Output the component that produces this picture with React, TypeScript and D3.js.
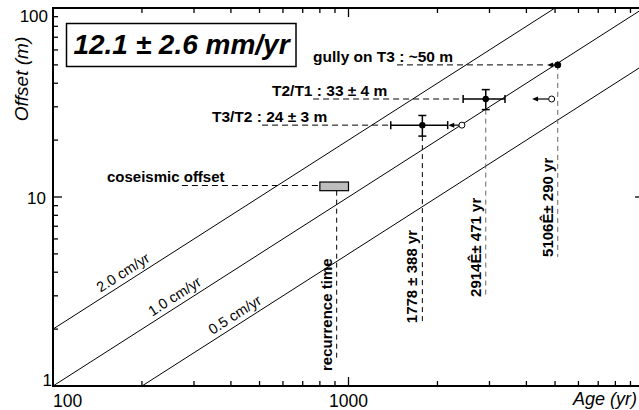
import React from "react";
import * as d3 from "d3";

// ---- data ----
const xDomain = [100, 10000];
const yDomain = [1, 100];
const xTickLabels = ["100", "1000"];
const yTickLabels = ["1", "10", "100"];

const rates = [0.02, 0.01, 0.005]; // m/yr
const rateLabels = ["2.0 cm/yr", "1.0 cm/yr", "0.5 cm/yr"];
const rateLabelAges = [180, 269, 430];

const pointLabels = ["T3/T2 : 24 ± 3 m", "T2/T1 : 33 ± 4 m", "gully on T3 : ~50 m"];
const pointAges = [1778, 2914, 5106];
const pointAgeErr = [388, 471, 0];
const pointOffsets = [24, 33, 50];
const pointOffsetErr = [3, 4, 0];
const openAges = [2420, 4870, 5106];
const arrowTipAges = [2175, 4180, 4700];
const ageLabels = ["1778 ± 388 yr", "2914Ê± 471 yr", "5106Ê± 290 yr"];
const leaderBottomOffsets = [2.15, 2.96, 4.82];
const leaderStartAges = [510, 759, 1459];
const labelStartAges = [345, 551, 759];

const coseismicAges = [800, 1000];
const coseismicOffsets = [10.8, 12];
const coseismicMidOffset = 11.5;
const recurrenceAge = 912;
const coseismicLeaderAge = 273;
const recurrenceBottomOffset = 1.37;

const rateText = "12.1 ± 2.6 mm/yr";

const FONT = "'Liberation Sans', Arial, Helvetica, sans-serif";

export default function App() {
  const x = d3.scaleLog().domain(xDomain).range([53, 644]);
  const y = d3.scaleLog().domain(yDomain).range([386, 8]);
  const [x0, x1] = x.range();
  const [y0, y1] = y.range();
  const xt = x.ticks();
  const yt = y.ticks();
  const isMajor = (v: number) => Math.abs(Math.log10(v) - Math.round(Math.log10(v))) < 1e-9;
  const ang = (Math.atan2(y(10) - y(1), x(1000) - x(100)) * 180) / Math.PI;

  const dash = "6,4";
  return (
    <svg
      width={639}
      height={410}
      style={{ position: "absolute", left: 0, top: 0, background: "#fff" }}
      fontFamily={FONT}
    >
      <defs>
        <clipPath id="plot">
          <rect x={x0} y={y1} width={x1 - x0} height={y0 - y1} />
        </clipPath>
      </defs>
      <rect x={0} y={0} width={639} height={410} fill="#fff" />

      {/* rate lines */}
      <g clipPath="url(#plot)">
        {rates.map((r, i) => {
          const ages = [xDomain[0], xDomain[1]];
          const d = `M${x(ages[0])},${y(r * ages[0])}L${x(ages[1])},${y(r * ages[1])}`;
          return <path key={i} d={d} stroke="#000" strokeWidth={1} fill="none" />;
        })}
      </g>
      {rates.map((r, i) => {
        const a = rateLabelAges[i];
        return (
          <text
            key={i}
            transform={`translate(${x(a)},${y(r * a)}) rotate(${ang})`}
            dy={-5}
            textAnchor="middle"
            fontSize={14.5}
          >
            {rateLabels[i]}
          </text>
        );
      })}

      {/* coseismic offset */}
      <line
        x1={x(coseismicLeaderAge)}
        x2={x(coseismicAges[0])}
        y1={y(coseismicMidOffset)}
        y2={y(coseismicMidOffset)}
        stroke="#000"
        strokeDasharray={dash}
      />
      <line
        x1={x(recurrenceAge)}
        x2={x(recurrenceAge)}
        y1={y(coseismicOffsets[0])}
        y2={y(recurrenceBottomOffset)}
        stroke="#000"
        strokeDasharray="5,4"
      />
      <rect
        x={x(coseismicAges[0])}
        y={y(coseismicOffsets[1])}
        width={x(coseismicAges[1]) - x(coseismicAges[0])}
        height={y(coseismicOffsets[0]) - y(coseismicOffsets[1])}
        fill="#bdbdbd"
        stroke="#000"
        strokeWidth={1.2}
      />
      <text x={107} y={182} fontSize={15} fontWeight="bold">
        coseismic offset
      </text>
      <text
        transform={`translate(${x(recurrenceAge) - 5},371) rotate(-90)`}
        fontSize={15}
        fontWeight="bold"
      >
        recurrence time
      </text>

      {/* dated offsets */}
      {pointAges.map((a, i) => {
        const px = x(a);
        const py = y(pointOffsets[i]);
        const vcol = i === 0 ? "#000" : "#666";
        return (
          <g key={i}>
            <line
              x1={x(leaderStartAges[i])}
              x2={pointAgeErr[i] > 0 ? x(a - pointAgeErr[i]) : x(arrowTipAges[i])}
              y1={py}
              y2={py}
              stroke="#000"
              strokeDasharray={dash}
            />
            <line
              x1={px}
              x2={px}
              y1={pointOffsetErr[i] > 0 ? y(pointOffsets[i] - pointOffsetErr[i]) : py}
              y2={y(leaderBottomOffsets[i])}
              stroke={vcol}
              strokeDasharray="5,4"
            />
            <text x={x(labelStartAges[i])} y={py - 3} fontSize={15.5} fontWeight="bold">
              {pointLabels[i]}
            </text>
            <text
              transform={`translate(${px - 5},${y(leaderBottomOffsets[i])}) rotate(-90)`}
              fontSize={15}
              fontWeight="bold"
            >
              {ageLabels[i]}
            </text>
            {pointAgeErr[i] > 0 && (
              <g stroke="#000" strokeWidth={1.5}>
                <line x1={x(a - pointAgeErr[i])} x2={x(a + pointAgeErr[i])} y1={py} y2={py} />
                <line x1={x(a - pointAgeErr[i])} x2={x(a - pointAgeErr[i])} y1={py - 4} y2={py + 4} />
                <line x1={x(a + pointAgeErr[i])} x2={x(a + pointAgeErr[i])} y1={py - 4} y2={py + 4} />
              </g>
            )}
            {pointOffsetErr[i] > 0 && (
              <g stroke="#000" strokeWidth={1.5}>
                <line
                  x1={px}
                  x2={px}
                  y1={y(pointOffsets[i] - pointOffsetErr[i])}
                  y2={y(pointOffsets[i] + pointOffsetErr[i])}
                />
                <line
                  x1={px - 4}
                  x2={px + 4}
                  y1={y(pointOffsets[i] - pointOffsetErr[i])}
                  y2={y(pointOffsets[i] - pointOffsetErr[i])}
                />
                <line
                  x1={px - 4}
                  x2={px + 4}
                  y1={y(pointOffsets[i] + pointOffsetErr[i])}
                  y2={y(pointOffsets[i] + pointOffsetErr[i])}
                />
              </g>
            )}
            {/* arrow from open circle */}
            <line
              x1={x(openAges[i]) - 3}
              x2={x(arrowTipAges[i]) + 4}
              y1={py}
              y2={py}
              stroke="#000"
              strokeWidth={1.2}
            />
            <path
              d={`M${x(arrowTipAges[i])},${py}L${x(arrowTipAges[i]) + 6},${py - 2.5}L${
                x(arrowTipAges[i]) + 6
              },${py + 2.5}Z`}
              fill="#000"
            />
            <circle cx={x(openAges[i])} cy={py} r={3} fill="#fff" stroke="#000" strokeWidth={1} />
            <circle cx={px} cy={py} r={3.2} fill="#000" />
          </g>
        );
      })}

      {/* rate box */}
      <rect x={66.5} y={23.5} width={229.5} height={43} fill="#fff" stroke="#000" strokeWidth={1.5} />
      <text x={181.5} y={53.5} textAnchor="middle" fontSize={28} fontWeight="bold" fontStyle="italic">
        {rateText}
      </text>

      {/* axes frame */}
      <rect x={x0} y={y1} width={x1 - x0} height={y0 - y1} fill="none" stroke="#000" strokeWidth={2} />
      <g stroke="#000" strokeWidth={1.3}>
        {xt.map((v, i) => {
          const L = isMajor(v) ? 9 : 5;
          return (
            <g key={i}>
              <line x1={x(v)} x2={x(v)} y1={y0} y2={y0 - L} />
              <line x1={x(v)} x2={x(v)} y1={y1} y2={y1 + L} />
            </g>
          );
        })}
        {yt.map((v, i) => {
          const L = isMajor(v) ? 9 : 5;
          return (
            <g key={i}>
              <line x1={x0} x2={x0 + L} y1={y(v)} y2={y(v)} />
              <line x1={x1} x2={x1 - L} y1={y(v)} y2={y(v)} />
            </g>
          );
        })}
      </g>

      {/* tick labels */}
      <text x={x(100)} y={406.5} fontSize={17.5}>
        {xTickLabels[0]}
      </text>
      <text x={x(1000)} y={406.5} fontSize={17.5} textAnchor="middle">
        {xTickLabels[1]}
      </text>
      <text x={52} y={386} fontSize={17} textAnchor="end">
        {yTickLabels[0]}
      </text>
      <text x={46} y={203.5} fontSize={17} textAnchor="end">
        {yTickLabels[1]}
      </text>
      <text x={48} y={22} fontSize={17} textAnchor="end">
        {yTickLabels[2]}
      </text>

      {/* axis titles */}
      <text x={637} y={405} fontSize={18} fontStyle="italic" textAnchor="end">
        Age (yr)
      </text>
      <text
        transform="translate(28,79) rotate(-90)"
        fontSize={19}
        fontStyle="italic"
        textAnchor="middle"
      >
        Offset (m)
      </text>
    </svg>
  );
}
